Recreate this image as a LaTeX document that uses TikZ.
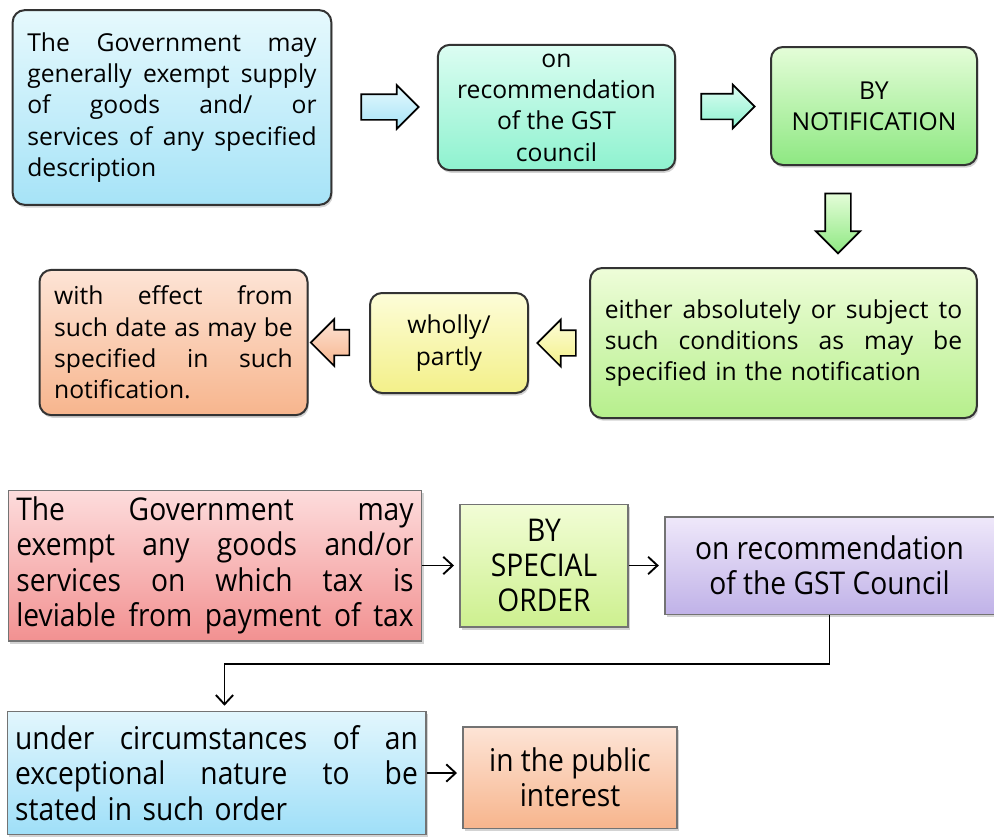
\documentclass[tikz,border=0pt]{standalone}
\usepackage{fontspec}
\setmainfont{Open Sans}
\newfontfamily\condfont[FakeStretch=0.9]{Open Sans}
\usetikzlibrary{shapes.arrows,shadows,arrows.meta}

\definecolor{blueTop}{HTML}{E6F9FD}
\definecolor{blueBot}{HTML}{A6E3F7}
\definecolor{tealTop}{HTML}{DCFDF2}
\definecolor{tealBot}{HTML}{8EF2CF}
\definecolor{grnTop}{HTML}{E4FDD8}
\definecolor{grnBot}{HTML}{8EE882}
\definecolor{lgTop}{HTML}{EEFDD9}
\definecolor{lgBot}{HTML}{B6EF8C}
\definecolor{yelTop}{HTML}{FDFDD8}
\definecolor{yelBot}{HTML}{F3F089}
\definecolor{orTop}{HTML}{FDE4D6}
\definecolor{orBot}{HTML}{F7B58D}
\definecolor{redTop}{HTML}{FDDCDC}
\definecolor{redBot}{HTML}{F29191}
\definecolor{ygTop}{HTML}{F2FDD6}
\definecolor{ygBot}{HTML}{CDF08F}
\definecolor{purTop}{HTML}{EFE8FA}
\definecolor{purBot}{HTML}{C0B2E8}
\definecolor{cyTop}{HTML}{E2F6FD}
\definecolor{cyBot}{HTML}{9FDFF8}

\tikzset{
  roundbox/.style={draw=black!80, line width=1.5pt, rounded corners=9pt,
    inner xsep=11pt, inner ysep=3pt, font=\fontsize{18.5}{23.5}\selectfont,
    drop shadow={shadow xshift=1pt, shadow yshift=-2pt, opacity=0.35}},
  sqbox/.style={draw=black!55, line width=1pt, inner xsep=6pt, inner ysep=3pt,
    font=\condfont\fontsize{23.5}{26.5}\selectfont,
    drop shadow={shadow xshift=1.5pt, shadow yshift=-2pt, opacity=0.35}},
  % block arrow: inner sep is half the shaft
  fatarrow/.style={single arrow, draw=black, line width=1.3pt, inner sep=9pt,
    single arrow head indent=0pt},
  flowline/.style={-{Straight Barb[length=7pt,width=13pt]}, line width=1.4pt,
    shorten >=4pt}
}

\begin{document}
\begin{tikzpicture}[x=0.75pt,y=-0.75pt]
  \useasboundingbox (0,0) rectangle (994,836);

  % first row
  \node[roundbox, top color=blueTop, bottom color=blueBot, text width=217pt,
    minimum height=146pt, align=left] (gov1) at (172,107.5)
    {The\hfill Government\hfill may\\ generally\hfill exempt\hfill supply\\
     of\hfill goods\hfill and/\hfill or\\ services\hfill of\hfill any\hfill specified\\ description};
  \node[roundbox, top color=tealTop, bottom color=tealBot, minimum width=178pt,
    minimum height=94pt, inner ysep=1pt, align=center] (gst1) at (556.5,107.5)
    {on\\ recommendation\\ of the GST\\ council};
  \node[roundbox, top color=grnTop, bottom color=grnBot, minimum width=154.5pt,
    minimum height=88.5pt, align=center] (notif) at (874,106)
    {BY\\ NOTIFICATION};

  \node[fatarrow, top color=blueTop, bottom color=blueBot,
    single arrow head extend=6.75pt, minimum height=43pt] (a1) at (383.5,107) {};
  \node[fatarrow, top color=tealTop, bottom color=tealBot,
    single arrow head extend=6.75pt, minimum height=40pt] (a2) at (721.5,106.5) {};
  \node[fatarrow, shape border rotate=270, top color=grnTop, bottom color=grnBot,
    single arrow head extend=7pt, minimum height=45pt] (a3) at (838,217) {};

  % second row
  \node[roundbox, top color=lgTop, bottom color=lgBot, text width=268pt,
    minimum height=112.5pt, align=left] (cond) at (783.5,343)
    {either\hfill absolutely\hfill or\hfill subject\hfill to\\
     such\hfill conditions\hfill as\hfill may\hfill be\\
     specified in the notification};
  \node[roundbox, top color=yelTop, bottom color=yelBot, minimum width=118.5pt,
    minimum height=75pt, align=center] (wholly) at (449,343)
    {wholly/\\ partly};
  \node[roundbox, top color=orTop, bottom color=orBot, text width=179pt,
    minimum height=109pt, align=left] (effect) at (173.5,342.5)
    {with\hfill effect\hfill from\\ such\hfill date\hfill as\hfill may\hfill be\\
     specified\hfill in\hfill such\\ notification.};

  \node[fatarrow, shape border rotate=180, top color=yelTop, bottom color=yelBot,
    single arrow head extend=8pt, minimum height=26pt] (a4) at (563,343) {};
  \node[fatarrow, shape border rotate=180, top color=orTop, bottom color=orBot,
    single arrow head extend=8pt, minimum height=28pt] (a5) at (336.5,342.5) {};

  % special order part
  \node[sqbox, top color=redTop, bottom color=redBot, text width=298pt,
    minimum height=113pt, align=left] (gov2) at (215,565.5)
    {The\hfill Government\hfill may\\ exempt\hfill any\hfill goods\hfill and/or\\
     services\hfill on\hfill which\hfill tax\hfill is\\
     leviable\hfill from\hfill payment\hfill of\hfill tax};
  \node[sqbox, top color=ygTop, bottom color=ygBot, minimum width=126pt,
    minimum height=92pt, align=center] (order) at (544,565.5)
    {BY\\ SPECIAL\\ ORDER};
  \node[sqbox, top color=purTop, bottom color=purBot, minimum width=247pt,
    minimum height=73pt, align=center] (gstc) at (829.5,565.5)
    {on recommendation\\ of the GST Council};
  \node[sqbox, top color=cyTop, bottom color=cyBot, text width=302pt,
    minimum height=92pt, align=left] (exc) at (216.5,773)
    {under\hfill circumstances\hfill of\hfill an\\
     exceptional\hfill nature\hfill to\hfill be\\ stated in such order};
  \node[sqbox, top color=orTop, bottom color=orBot, minimum width=160.5pt,
    minimum height=76pt, align=center] (pub) at (570,777.5)
    {in the public\\ interest};

  \draw[flowline] (gov2) -- (order);
  \draw[flowline] (order) -- (gstc);
  \draw[flowline] (gstc.south) -- ++(0,49) -| ([xshift=6pt]exc.north);
  \draw[flowline] (exc.east) -- (exc.east -| pub.west);
\end{tikzpicture}
\end{document}
